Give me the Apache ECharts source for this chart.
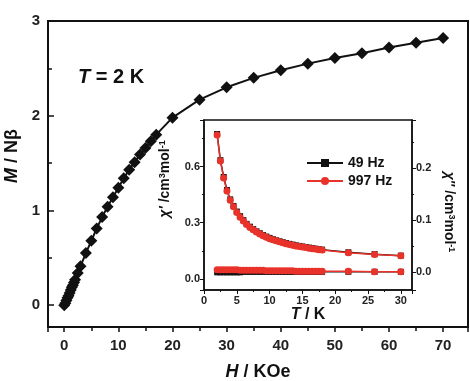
<!DOCTYPE html>
<html><head><meta charset="utf-8">
<script src="https://cdn.jsdelivr.net/npm/echarts@6/dist/echarts.min.js"></script>
<style>html,body{margin:0;padding:0;background:#fff}#c{width:470px;height:381px}</style>
</head><body><div id="c"></div>
<script>
// Main panel: magnetization vs field at T = 2 K
const fieldH = [0,0.2,0.4,0.6,0.8,1.0,1.2,1.4,1.6,1.8,2.0,2.5,3,4,5,6,7,8,9,10,11,12,13,14,15,16,17,20,25,30,35,40,45,50,55,60,65,70];
const magM   = [0,0.02,0.05,0.08,0.10,0.13,0.16,0.19,0.21,0.24,0.27,0.34,0.41,0.55,0.68,0.81,0.93,1.04,1.14,1.24,1.34,1.43,1.51,1.59,1.66,1.73,1.80,1.98,2.17,2.30,2.40,2.48,2.55,2.61,2.66,2.72,2.77,2.82];
// Inset: ac susceptibility vs temperature
const tempT   = [2,2.5,3,3.5,4,4.5,5,5.5,6,6.5,7,7.5,8,8.5,9,9.5,10,10.5,11,11.5,12,12.5,13,13.5,14,14.5,15,15.5,16,16.5,17,17.5,18,22,26,30];
const chiP49  = [0.775,0.635,0.545,0.475,0.425,0.39,0.36,0.335,0.314,0.294,0.279,0.266,0.254,0.244,0.234,0.226,0.219,0.212,0.206,0.201,0.196,0.191,0.187,0.183,0.179,0.176,0.173,0.17,0.167,0.164,0.161,0.158,0.156,0.142,0.132,0.124];
const chiP997 = [0.77,0.63,0.54,0.47,0.42,0.385,0.355,0.33,0.31,0.29,0.275,0.262,0.25,0.24,0.23,0.222,0.215,0.209,0.203,0.198,0.193,0.188,0.184,0.18,0.176,0.173,0.17,0.167,0.164,0.161,0.159,0.156,0.154,0.14,0.13,0.123];
const chiPP49  = [-0.001,-0.001,-0.001,-0.001,-0.001,-0.001,-0.001,-0.001,0,0,0,0,0,0,0,0,0,0,0,0,0,0,0,0,0,0,0,0,0,0,0,0,0,0,0,0];
const chiPP997 = [0.004,0.004,0.004,0.004,0.004,0.004,0.004,0.003,0.003,0.003,0.003,0.003,0.003,0.003,0.003,0.002,0.002,0.002,0.002,0.002,0.002,0.002,0.002,0.002,0.001,0.001,0.001,0.001,0.001,0.001,0.001,0.001,0.001,0.001,0,0];
const legendNames = ['49 Hz', '997 Hz'];

const FONT = '"Liberation Sans", Arial, Helvetica, sans-serif';
const INK = '#111';
const RED = '#e8322a';
const zip = (xs, ys) => xs.map((x, i) => [x, ys[i]]);

function richName(size) {
  return {
    fontFamily: FONT, fontSize: size, fontWeight: 'bold', color: INK,
    rich: {
      i: { fontFamily: FONT, fontSize: size, fontWeight: 'bold', fontStyle: 'italic', color: INK },
      g: { fontFamily: FONT, fontSize: size, fontWeight: 'bold', fontStyle: 'italic', color: INK },
      n: { fontFamily: FONT, fontSize: size, fontWeight: 'bold', color: INK },
      s: { fontFamily: FONT, fontSize: Math.round(size * 0.65), fontWeight: 'bold', color: INK, verticalAlign: 'top', lineHeight: size }
    }
  };
}

const chart = echarts.init(document.getElementById('c'), null, { renderer: 'canvas' });
const option = {
  animation: false,
  backgroundColor: '#fff',
  title: {
    text: '{i|T} = 2 K',
    left: 73, top: 62,
    textStyle: richName(20)
  },
  legend: {
    data: legendNames,
    orient: 'vertical',
    left: 301, top: 151,
    itemWidth: 36, itemHeight: 10, itemGap: 4,
    textStyle: { fontFamily: FONT, fontSize: 14, fontWeight: 'bold', color: INK }
  },
  grid: [
    { left: 48, top: 21, right: 2, bottom: 54, show: true, borderColor: INK, borderWidth: 2, backgroundColor: 'transparent', outerBoundsMode: 'none' },
    { left: 204, top: 120, width: 208, height: 170, show: true, borderColor: INK, borderWidth: 1.5, backgroundColor: '#fff', outerBoundsMode: 'none' }
  ],
  xAxis: [
    {
      type: 'value', gridIndex: 0, min: -3, max: 74.6, splitNumber: 8,
      axisLine: { show: true, onZero: false, lineStyle: { color: INK, width: 2 } },
      axisTick: { show: true, inside: false, length: 5, lineStyle: { color: INK, width: 1.5 } },
      minorTick: { show: true, splitNumber: 2, length: 4, lineStyle: { color: INK, width: 1.5 } },
      splitLine: { show: false },
      axisLabel: { fontFamily: FONT, fontSize: 15, fontWeight: 'bold', color: '#222', margin: 11, showMinLabel: false, showMaxLabel: false },
      name: '{i|H} / KOe', nameLocation: 'middle', nameGap: 36,
      nameTextStyle: richName(18)
    },
    {
      type: 'value', gridIndex: 1, min: 0, max: 31.7, interval: 5,
      axisLine: { show: true, onZero: false, lineStyle: { color: INK, width: 1.5 } },
      axisTick: { show: true, inside: false, length: 4, lineStyle: { color: INK, width: 1 } },
      minorTick: { show: true, splitNumber: 2, length: 2, lineStyle: { color: INK, width: 1 } },
      splitLine: { show: false },
      axisLabel: { fontFamily: FONT, fontSize: 11, fontWeight: 'bold', color: '#222', margin: 5, showMaxLabel: false },
      name: '{i|T} / K', nameLocation: 'middle', nameGap: 14,
      nameTextStyle: richName(16)
    }
  ],
  yAxis: [
    {
      type: 'value', gridIndex: 0, min: -0.23, max: 3, splitNumber: 3,
      axisLine: { show: true, onZero: false, lineStyle: { color: INK, width: 2 } },
      axisTick: { show: true, inside: true, length: 6, lineStyle: { color: INK, width: 1.5 } },
      minorTick: { show: true, splitNumber: 2, length: 4, lineStyle: { color: INK, width: 1.5 } },
      splitLine: { show: false },
      axisLabel: { fontFamily: FONT, fontSize: 15, fontWeight: 'bold', color: '#222', margin: 8, showMinLabel: false },
      name: '{i|M} / N{n|β}', nameLocation: 'middle', nameGap: 20, nameRotate: 90,
      nameTextStyle: Object.assign(richName(18), { padding: [0, 0, 0, 36] })
    },
    {
      type: 'value', gridIndex: 1, min: -0.06, max: 0.85, splitNumber: 3,
      axisLine: { show: true, onZero: false, lineStyle: { color: INK, width: 1.5 } },
      axisTick: { show: true, inside: false, length: 4, lineStyle: { color: INK, width: 1 } },
      minorTick: { show: true, splitNumber: 2, length: 2, lineStyle: { color: INK, width: 1 } },
      splitLine: { show: false },
      axisLabel: { fontFamily: FONT, fontSize: 11, fontWeight: 'bold', color: '#222', margin: 4, showMinLabel: false, showMaxLabel: false,
        formatter: v => v.toFixed(1) },
      name: "{g|χ'} /cm{s|3}mol{s|-1}", nameLocation: 'middle', nameGap: 32, nameRotate: 90,
      nameTextStyle: Object.assign(richName(14), { padding: [0, 0, 0, 52] })
    },
    {
      type: 'value', gridIndex: 1, position: 'right', min: -0.035, max: 0.292, splitNumber: 3,
      axisLine: { show: true, onZero: false, lineStyle: { color: INK, width: 1.5 } },
      axisTick: { show: true, inside: false, length: 4, lineStyle: { color: INK, width: 1 } },
      minorTick: { show: true, splitNumber: 2, length: 2, lineStyle: { color: INK, width: 1 } },
      splitLine: { show: false },
      axisLabel: { fontFamily: FONT, fontSize: 11, fontWeight: 'bold', color: '#222', margin: 4, showMinLabel: false, showMaxLabel: false,
        formatter: v => v.toFixed(1) },
      name: "{g|χ''} /cm{s|3}mol{s|-1}", nameLocation: 'middle', nameGap: 30, nameRotate: -90,
      nameTextStyle: Object.assign(richName(14), { padding: [0, 0, 0, 14] })
    }
  ],
  series: [
    {
      name: 'M', type: 'line', xAxisIndex: 0, yAxisIndex: 0,
      data: zip(fieldH, magM),
      symbol: 'diamond', symbolSize: 12,
      itemStyle: { color: INK }, lineStyle: { color: INK, width: 2 }, z: 3
    },
    {
      name: '49 Hz', type: 'line', xAxisIndex: 1, yAxisIndex: 1,
      data: zip(tempT, chiP49),
      symbol: 'rect', symbolSize: 6,
      itemStyle: { color: INK }, lineStyle: { color: INK, width: 1.5 }, z: 4
    },
    {
      name: '49 Hz', type: 'line', xAxisIndex: 1, yAxisIndex: 2,
      data: zip(tempT, chiPP49),
      symbol: 'rect', symbolSize: 6,
      itemStyle: { color: INK }, lineStyle: { color: INK, width: 1.5 }, z: 4
    },
    {
      name: '997 Hz', type: 'line', xAxisIndex: 1, yAxisIndex: 1,
      data: zip(tempT, chiP997),
      symbol: 'circle', symbolSize: 7,
      itemStyle: { color: RED }, lineStyle: { color: RED, width: 1.5 }, z: 5
    },
    {
      name: '997 Hz', type: 'line', xAxisIndex: 1, yAxisIndex: 2,
      data: zip(tempT, chiPP997),
      symbol: 'circle', symbolSize: 7,
      itemStyle: { color: RED }, lineStyle: { color: RED, width: 1.5 }, z: 5
    }
  ]
};
chart.setOption(option);
</script>
</body></html>
